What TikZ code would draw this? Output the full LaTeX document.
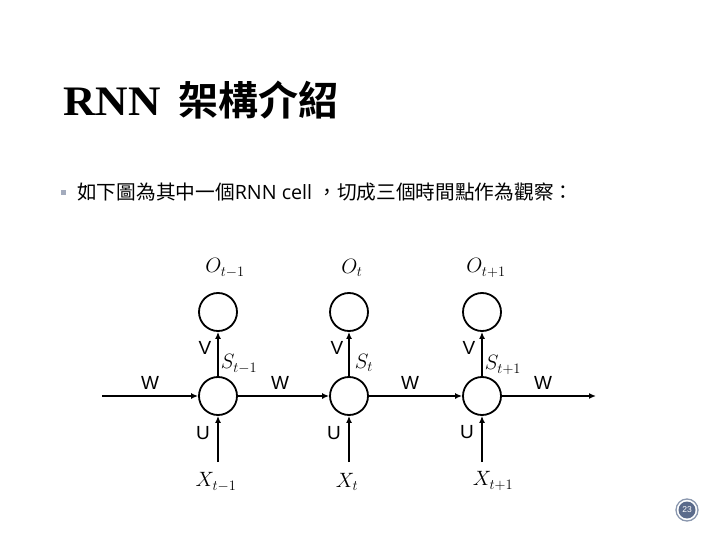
\documentclass[tikz,border=0pt]{standalone}
\usepackage{fontspec}
\usetikzlibrary{arrows.meta}
\setmainfont{Liberation Sans}
\newfontfamily\titleserif{Liberation Serif}
\newfontfamily\cjk{Noto Sans CJK TC}
\newfontfamily\cjkbold{Noto Sans CJK TC Bold}
\newfontfamily\latinb{Open Sans}
\definecolor{bulletc}{HTML}{A3ABBD}
\definecolor{pgfill}{HTML}{5B6B8B}
\definecolor{pgring}{HTML}{8A97AE}
\tikzset{
  cell/.style={circle, draw, line width=1.8pt, minimum size=38pt, inner sep=0pt},
  conn/.style={line width=1.8pt, -{Latex[length=7pt,width=6pt]}},
  mlab/.style={inner sep=0pt, font=\fontsize{20}{24}\selectfont},
  slab/.style={inner sep=0pt, font=\fontsize{19}{22}\selectfont},
}
\begin{document}
\begin{tikzpicture}[x=1pt,y=-1pt]
\useasboundingbox (0,0) rectangle (720,540);
% title
\node[anchor=base west, inner sep=0pt, font=\titleserif\bfseries\fontsize{42}{46}\selectfont] (tr) at (63,116) {\scalebox{1.07}[1]{RNN}};
\node[anchor=base west, inner sep=0pt, font=\cjkbold\fontsize{40}{46}\selectfont] (tc) at (178,116) {架構介紹};
% bullet text
\node[fill=bulletc, minimum size=5pt, inner sep=0pt] (bul) at (63,193) {};
\node[anchor=base west, inner sep=0pt, font=\cjk\fontsize{19.7}{22}\selectfont] (txt) at (77,200) {如下圖為其中一個{\latinb RNN cell }，切成三個時間點作為觀察：};
% cells
\node[cell] (h1) at (218,396) {};
\node[cell] (h2) at (349,396) {};
\node[cell] (h3) at (482,396) {};
\node[cell] (o1) at (218,312) {};
\node[cell] (o2) at (349,312) {};
\node[cell] (o3) at (482,312) {};
\coordinate (lin) at (102,396);
\coordinate (rout) at (596,396);
\coordinate (x1) at (218,462);
\coordinate (x2) at (349,462);
\coordinate (x3) at (482,462);
\draw[conn] (lin) -- (h1);
\draw[conn] (h1) -- (h2);
\draw[conn] (h2) -- (h3);
\draw[conn] (h3) -- (rout);
\draw[conn] (h1) -- (o1);
\draw[conn] (h2) -- (o2);
\draw[conn] (h3) -- (o3);
\draw[conn] (x1) -- (h1);
\draw[conn] (x2) -- (h2);
\draw[conn] (x3) -- (h3);
% math labels
\node[mlab] (lo1) at (225,268) {$O_{t-1}$};
\node[mlab] (lo2) at (352,268) {$O_{t}$};
\node[mlab] (lo3) at (486,268) {$O_{t+1}$};
\node[mlab] (ls1) at (239,364) {$S_{t-1}$};
\node[mlab] (ls2) at (364,363) {$S_{t}$};
\node[mlab] (ls3) at (503,365) {$S_{t+1}$};
\node[mlab] (lx1) at (216,482) {$X_{t-1}$};
\node[mlab] (lx2) at (347,482) {$X_{t}$};
\node[mlab] (lx3) at (493,481) {$X_{t+1}$};
% sans labels
\node[slab] (v1) at (205,348) {V};
\node[slab] (v2) at (337,348) {V};
\node[slab] (v3) at (469,348) {V};
\node[slab] (w1) at (150,383) {W};
\node[slab] (w2) at (280,383) {W};
\node[slab] (w3) at (410,383) {W};
\node[slab] (w4) at (543,383) {W};
\node[slab] (u1) at (203,433) {U};
\node[slab] (u2) at (334,433) {U};
\node[slab] (u3) at (467,432) {U};
% page number
\node[circle, draw=pgring, line width=1.3pt, minimum size=22pt, inner sep=0pt] (pgo) at (687,510) {};
\node[circle, fill=pgfill, minimum size=17pt, inner sep=0pt, text=white, font=\fontsize{8.5}{9}\selectfont] (pg) at (687,510) {23};
\end{tikzpicture}
\end{document}
